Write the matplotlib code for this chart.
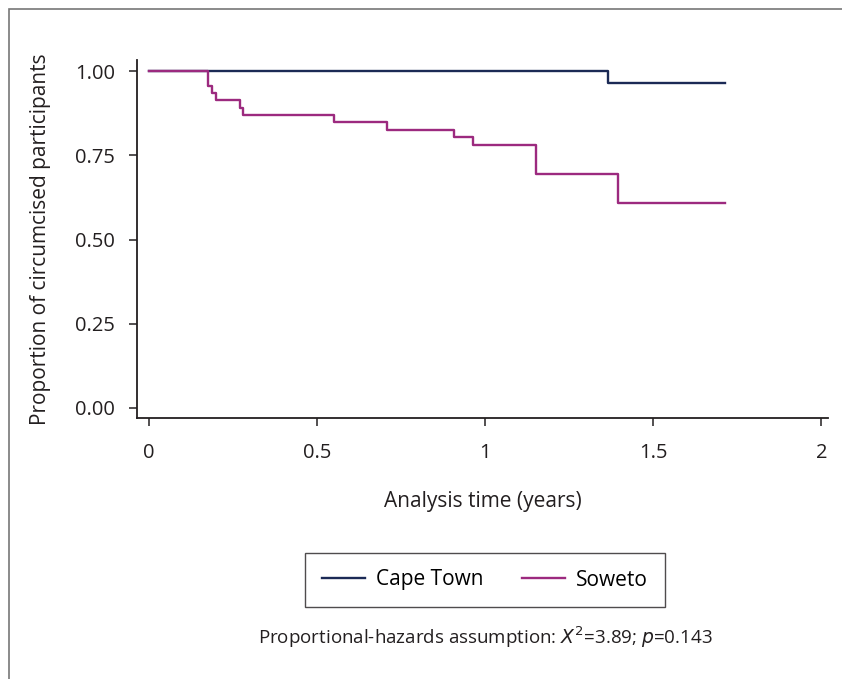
import matplotlib

matplotlib.use("Agg")
import matplotlib.pyplot as plt
from matplotlib.patches import Rectangle

# Kaplan-Meier step data
cape_time = [0.0, 1.365, 1.714]
cape_surv = [1.0, 0.965, 0.965]

soweto_time = [0.0, 0.176, 0.187, 0.198, 0.269, 0.279, 0.549, 0.707,
               0.908, 0.965, 1.152, 1.396, 1.714]
soweto_surv = [1.0, 0.957, 0.935, 0.913, 0.891, 0.870, 0.848, 0.826,
               0.804, 0.782, 0.695, 0.608, 0.608]

x_ticks = [0, 0.5, 1, 1.5, 2]
x_tick_labels = ["0", "0.5", "1", "1.5", "2"]
y_ticks = [0, 0.25, 0.5, 0.75, 1.0]
y_tick_labels = ["0.00", "0.25", "0.50", "0.75", "1.00"]

CAPE_COLOR = "#1b2a55"
SOWETO_COLOR = "#9c2a7f"
TEXT_COLOR = "#231f20"

plt.rcParams["font.family"] = ["Open Sans", "DejaVu Sans"]

W, H = 842, 679
fig = plt.figure(figsize=(W / 100, H / 100), dpi=100)

# grey page frame (runs off right and bottom)
fig.patches.append(Rectangle((9 / W, -0.1), 1.2, 1 - 9 / H + 0.1,
                             transform=fig.transFigure, fill=False,
                             edgecolor="#777777", linewidth=1.2))

left, right, top, bottom = 137, 828, 60, 418
ax = fig.add_axes([left / W, 1 - bottom / H, (right - left) / W, (bottom - top) / H])

ax.plot(cape_time, cape_surv, drawstyle="steps-post", color=CAPE_COLOR,
        linewidth=1.7, label="Cape Town")
ax.plot(soweto_time, soweto_surv, drawstyle="steps-post", color=SOWETO_COLOR,
        linewidth=1.7, label="Soweto")

ax.set_xlim(-0.036, 2.02)
ax.set_ylim(-0.030, 1.033)
ax.spines["top"].set_visible(False)
ax.spines["right"].set_visible(False)
for s in ("left", "bottom"):
    ax.spines[s].set_linewidth(1.3)
    ax.spines[s].set_color(TEXT_COLOR)

ax.set_xticks(x_ticks)
ax.set_xticklabels(x_tick_labels)
ax.set_yticks(y_ticks)
ax.set_yticklabels(y_tick_labels)
ax.tick_params(axis="both", labelsize=14.5, length=6, width=1.1,
               color=TEXT_COLOR, labelcolor=TEXT_COLOR)
ax.tick_params(axis="x", pad=12)
ax.tick_params(axis="y", pad=10)

ax.set_xlabel("Analysis time (years)", fontsize=15, color=TEXT_COLOR, labelpad=20)
ax.set_ylabel("Proportion of circumcised participants", fontsize=15,
              color=TEXT_COLOR, labelpad=17)

leg = fig.legend(loc="center", bbox_to_anchor=(485 / W, 1 - 580 / H), ncol=2,
                 fontsize=15, frameon=True, fancybox=False, edgecolor=TEXT_COLOR,
                 handlelength=2.05, columnspacing=1.85, borderpad=0.8,
                 handletextpad=0.55)
leg.get_frame().set_linewidth(1.0)

fig.text(485 / W, 1 - 637 / H,
         r"Proportional-hazards assumption: $\mathit{X}^2$=3.89; $\mathit{p}$=0.143",
         ha="center", va="center", fontsize=13.5, color=TEXT_COLOR)

fig.savefig("out.png", dpi=100)
